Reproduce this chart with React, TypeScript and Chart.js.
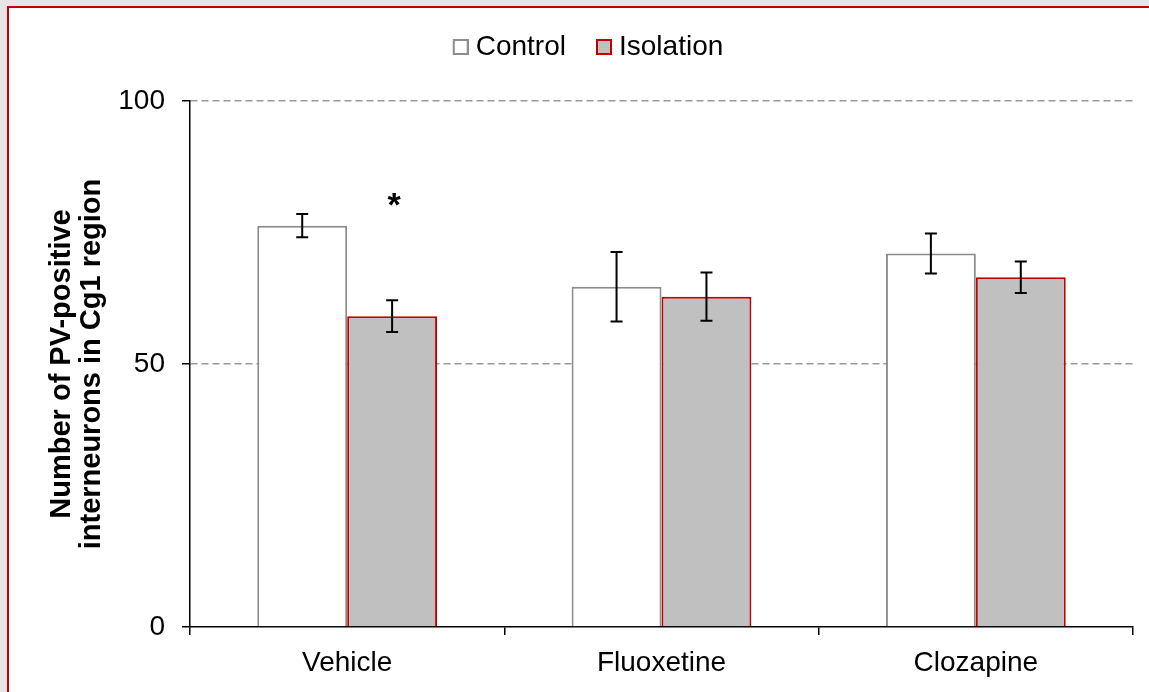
import React, { useEffect, useRef } from "react";
import { Chart, registerables } from "chart.js";

Chart.register(...registerables);

const categories = ["Vehicle", "Fluoxetine", "Clozapine"];
const seriesNames = ["Control", "Isolation"];
const controlValues = [76.3, 64.7, 71.0];
const controlErrors = [2.2, 6.6, 3.8];
const isolationValues = [59.1, 62.8, 66.5];
const isolationErrors = [3.0, 4.6, 3.0];
const isolationMarks = ["*", "", ""];
const isolationMarkValues = [80, 0, 0];
const yMin = 0;
const yMax = 100;
const yStep = 50;
const yTitle = ["Number of PV-positive", "interneurons in Cg1 region"];

const FONT = "'Liberation Sans', Arial, sans-serif";
const controlFill = "#ffffff";
const controlStroke = "#8c8c8c";
const isolationFill = "#c0c0c0";
const isolationStroke = "#c00000";

// legend swatch: extra transparent lead-in on the left so the items are spaced like the original
const LEGEND_BOX_W = 29;
function makeSwatch(fill: string, stroke: string): HTMLCanvasElement {
  const c = document.createElement("canvas");
  c.width = LEGEND_BOX_W + 14;
  c.height = 16;
  const g = c.getContext("2d")!;
  const x0 = c.width - 16;
  g.fillStyle = fill;
  g.fillRect(x0 + 1, 1, 14, 14);
  g.strokeStyle = stroke;
  g.lineWidth = 2;
  g.strokeRect(x0 + 1, 1, 14, 14);
  return c;
}

const errorBarPlugin = {
  id: "errorBars",
  afterDatasetsDraw(chart: any) {
    const ctx = chart.ctx;
    const yScale = chart.scales.y;
    const errs = [controlErrors, isolationErrors];
    const vals = [controlValues, isolationValues];
    ctx.save();
    ctx.strokeStyle = "#000";
    ctx.lineWidth = 2;
    for (let d = 0; d < 2; d++) {
      const meta = chart.getDatasetMeta(d);
      meta.data.forEach((bar: any, j: number) => {
        const x = bar.x;
        const yTop = yScale.getPixelForValue(vals[d][j] + errs[d][j]);
        const yBot = yScale.getPixelForValue(vals[d][j] - errs[d][j]);
        const cap = 6;
        ctx.beginPath();
        ctx.moveTo(x, yTop);
        ctx.lineTo(x, yBot);
        ctx.moveTo(x - cap, yTop);
        ctx.lineTo(x + cap, yTop);
        ctx.moveTo(x - cap, yBot);
        ctx.lineTo(x + cap, yBot);
        ctx.stroke();
      });
    }
    const meta1 = chart.getDatasetMeta(1);
    ctx.fillStyle = "#000";
    ctx.font = `bold 34px ${FONT}`;
    ctx.textAlign = "center";
    ctx.textBaseline = "middle";
    meta1.data.forEach((bar: any, j: number) => {
      if (isolationMarks[j]) {
        ctx.fillText(isolationMarks[j], bar.x + 2, yScale.getPixelForValue(isolationMarkValues[j]));
      }
    });
    ctx.restore();
  },
};

export default function App() {
  const canvasRef = useRef<HTMLCanvasElement | null>(null);

  useEffect(() => {
    if (!canvasRef.current) return;
    const swatches = [makeSwatch(controlFill, controlStroke), makeSwatch(isolationFill, isolationStroke)];
    const chart = new Chart(canvasRef.current, {
      type: "bar",
      data: {
        labels: categories,
        datasets: [
          {
            label: seriesNames[0],
            data: controlValues,
            xAxisID: "x",
            yAxisID: "y",
            backgroundColor: controlFill,
            borderColor: controlStroke,
            borderWidth: 2,
          },
          {
            label: seriesNames[1],
            data: isolationValues,
            xAxisID: "x",
            yAxisID: "y",
            backgroundColor: isolationFill,
            borderColor: isolationStroke,
            borderWidth: 2,
          },
        ],
      },
      options: {
        responsive: false,
        animation: false,
        devicePixelRatio: 1,
        datasets: {
          bar: { barPercentage: 1, categoryPercentage: 0.572 },
        },
        layout: { padding: { left: 7, right: 0, top: 23, bottom: 0 } },
        plugins: {
          tooltip: { enabled: false },
          legend: {
            position: "top",
            labels: {
              usePointStyle: true,
              pointStyleWidth: LEGEND_BOX_W,
              boxHeight: 16,
              padding: 10,
              color: "#000",
              font: { family: FONT, size: 28 },
              generateLabels(chart: any) {
                const items = (Chart as any).defaults.plugins.legend.labels.generateLabels(chart);
                return items.map((it: any, i: number) => ({ ...it, pointStyle: swatches[i] }));
              },
            },
          },
        },
        scales: {
          x: {
            z: 1,
            grid: {
              offset: true,
              drawOnChartArea: false,
              color: "#000",
              tickColor: "#000",
              tickLength: 8,
              lineWidth: 1.5,
            },
            border: { color: "#000", width: 1.5 },
            ticks: {
              color: "#000",
              padding: 11,
              font: { family: FONT, size: 28 },
            },
            afterFit(s: any) {
              s.height = 65;
            },
          },
          y: {
            min: yMin,
            max: yMax,
            ticks: {
              stepSize: yStep,
              color: "#000",
              padding: 17,
              font: { family: FONT, size: 28 },
            },
            grid: {
              color: (c: any) => (c.tick && c.tick.value === 0 ? "rgba(0,0,0,0)" : "#9a9a9a"),
              lineWidth: 1.5,
              tickColor: "#000",
              tickWidth: 1.5,
              tickLength: 8,
              tickBorderDash: [],
            },
            border: { color: "#000", width: 1.5, dash: [7, 4] },
            title: {
              display: true,
              text: yTitle,
              color: "#000",
              padding: { top: 40, bottom: 0 },
              font: { family: FONT, size: 29, weight: "bold", lineHeight: 30 / 29 },
            },
            afterFit(s: any) {
              s.width = 183;
            },
          },
          xTop: {
            type: "category",
            position: "top",
            grid: { display: false },
            border: { display: false },
            ticks: { display: false },
            afterFit(s: any) {
              s.height = 30;
            },
          },
          yRight: {
            type: "linear",
            position: "right",
            grid: { display: false },
            border: { display: false },
            ticks: { display: false },
            afterFit(s: any) {
              s.width = 16;
            },
          },
        },
      },
      plugins: [errorBarPlugin],
    });
    return () => chart.destroy();
  }, []);

  return (
    <div style={{ position: "fixed", inset: 0, background: "#e6e6e6", overflow: "hidden" }}>
      <div
        style={{
          position: "absolute",
          left: 7,
          top: 6,
          width: 1200,
          height: 750,
          border: "2px solid #c00000",
          background: "#ffffff",
        }}
      />
      <div style={{ position: "absolute", left: 0, top: 0, width: 1149, height: 692 }}>
        <canvas ref={canvasRef} width={1149} height={692} style={{ display: "block" }} />
      </div>
    </div>
  );
}
